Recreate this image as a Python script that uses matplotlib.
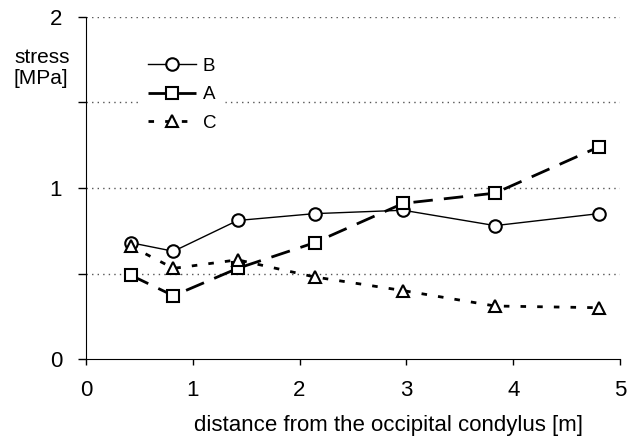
import numpy as np
import matplotlib
matplotlib.use("Agg")
from matplotlib import pyplot as plt

plt.rcParams['font.family'] = ['Liberation Sans', 'DejaVu Sans']

# distance from the occipital condylus [m]
dist = [0.42, 0.82, 1.42, 2.14, 2.97, 3.83, 4.80]
stress_B = [0.68, 0.63, 0.81, 0.85, 0.87, 0.78, 0.85]
stress_A = [0.49, 0.37, 0.53, 0.68, 0.91, 0.97, 1.24]
stress_C = [0.66, 0.53, 0.58, 0.48, 0.40, 0.31, 0.30]

yticks = [0, 0.5, 1, 1.5, 2]
ylabels = ["0", "", "1", "", "2"]

fig = plt.figure(figsize=(6.36, 4.46), dpi=100)
ax = fig.add_axes([0.135, 0.195, 0.84, 0.767])

ax.plot(dist, stress_B, color="black", lw=1, marker="o", markersize=9,
        markerfacecolor="white", markeredgewidth=1.5, label="B", zorder=3)
ax.plot(dist, stress_A, color="black", lw=2, dashes=(7, 4), marker="s", markersize=9,
        markerfacecolor="white", markeredgewidth=1.5, label="A", zorder=3)
ax.plot(dist, stress_C, color="black", lw=2, dashes=(2, 4), marker="^", markersize=9,
        markerfacecolor="white", markeredgewidth=1.5, label="C", zorder=3)

ax.set_xlim(0, 5)
ax.set_ylim(0, 2)
ax.set_xticks([0, 1, 2, 3, 4, 5])
ax.set_yticks(yticks)
ax.set_yticklabels(ylabels)
ax.tick_params(axis="x", direction="out", length=4, width=1, labelsize=16, pad=11)
ax.tick_params(axis="y", direction="out", length=6, width=1, labelsize=16, pad=11)

for v in [0.5, 1, 1.5, 2]:
    ax.axhline(v, color="#555555", lw=1, ls=(0, (1, 3)), zorder=1)

for s in ["top", "right"]:
    ax.spines[s].set_visible(False)

ax.set_xlabel("distance from the occipital condylus [m]", fontsize=16)
ax.xaxis.set_label_coords(0.566, -0.165)
fig.text(0.022, 0.893, "stress\n[MPa]", fontsize=15, ha="left", va="top", linespacing=1.15)

leg = ax.legend(loc="upper left", bbox_to_anchor=(0.085, 0.93), frameon=True,
                edgecolor="white", facecolor="white", framealpha=1, fancybox=False,
                fontsize=13.5, handlelength=2.56, labelspacing=0.6, handletextpad=0.35)
leg.set_zorder(5)

fig.savefig("out.png", dpi=100)
